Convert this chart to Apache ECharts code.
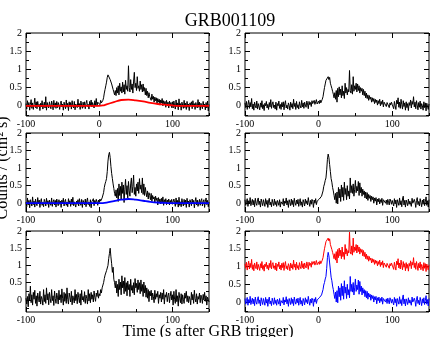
<!DOCTYPE html>
<html>
<head>
<meta charset="utf-8">
<script src="https://cdn.jsdelivr.net/npm/echarts@6/dist/echarts.min.js"></script>
<style>
  html, body { margin: 0; padding: 0; background: #fff; }
  #chart { width: 436px; height: 337px; }
</style>
</head>
<body>
<div id="chart"></div>
<script>
// 1 s time bins, -100 .. 150 s after trigger
const time = []
for (let t = -100; t <= 150; t += 1) time.push(t)

// light curves (counts / cm^2 s)
// each: 105 pre-burst bins, 96 burst bins (5..100 s), 50 tail bins
const tlCounts = [
  0.06, -0.09, 0.14, -0.02, 0.09, -0.12, 0.04, 0.17, -0.07, 0.08,
  -0.10, 0.03, 0.21, -0.05, 0.11, -0.08, 0.12, -0.02, 0.04, -0.13,
  0.07, -0.03, 0.14, -0.09, 0.01, 0.10, -0.06, 0.25, -0.12, 0.09,
  0.00, -0.06, 0.11, 0.02, -0.08, 0.13, 0.04, -0.11, 0.15, -0.04,
  0.08, -0.07, 0.12, -0.05, 0.09, 0.02, -0.10, 0.06, 0.13, -0.03,
  0.05, -0.12, 0.10, 0.01, -0.08, 0.16, -0.04, 0.07, -0.13, 0.11,
  -0.02, 0.09, -0.09, 0.14, 0.00, -0.06, 0.12, -0.11, 0.05, 0.08,
  -0.05, 0.18, -0.03, 0.06, -0.10, 0.13, 0.02, -0.07, 0.10, -0.04,
  0.11, -0.08, 0.07, 0.15, -0.02, 0.04, -0.09, 0.12, 0.01, 0.16,
  -0.03, 0.09, 0.05, -0.06, 0.14, 0.02, 0.20, -0.01, 0.10, 0.06,
  0.12, 0.03, 0.15, 0.08, 0.11,
  0.15, 0.22, 0.35, 0.45, 0.55, 0.65, 0.78, 0.85, 0.80, 0.86,
  0.72, 0.75, 0.60, 0.55, 0.45, 0.38, 0.30, 0.42, 0.28, 0.50,
  0.35, 0.55, 0.30, 0.62, 0.40, 0.52, 0.35, 0.65, 0.38, 0.58,
  0.32, 0.70, 0.45, 0.55, 0.40, 1.10, 0.50, 0.38, 0.72, 0.45,
  0.60, 0.35, 0.68, 0.92, 0.50, 0.62, 0.42, 0.80, 0.48, 0.55,
  0.40, 0.68, 0.45, 0.58, 0.38, 0.60, 0.40, 0.50, 0.30, 0.48,
  0.28, 0.40, 0.22, 0.36, 0.25, 0.30, 0.15, 0.32, 0.18, 0.26,
  0.10, 0.24, 0.14, 0.22, 0.06, 0.20, 0.10, 0.18, 0.02, 0.16,
  0.08, 0.20, 0.00, 0.14, 0.05, 0.12, -0.04, 0.15, 0.02, 0.10,
  -0.06, 0.13, 0.01, 0.09, -0.05, 0.11,
  -0.06, 0.13, 0.01, -0.09, 0.16, -0.02, 0.08, -0.11, 0.19, -0.03,
  0.06, -0.12, 0.10, 0.02, -0.07, 0.15, -0.05, 0.07, -0.10, 0.12,
  -0.04, 0.05, -0.13, 0.08, 0.02, 0.11, -0.08, 0.14, -0.02, 0.06,
  -0.10, 0.09, 0.00, -0.06, 0.17, -0.04, 0.10, -0.12, 0.07, 0.03,
  -0.08, 0.12, -0.03, 0.05, -0.11, 0.09, -0.06, 0.13, -0.14, 0.04
]
const trCounts = [
  0.08, -0.05, 0.12, -0.10, 0.04, 0.15, -0.07, 0.09, -0.03, 0.20,
  -0.08, 0.05, -0.12, 0.10, 0.01, -0.06, 0.13, -0.09, 0.06, 0.02,
  -0.11, 0.08, -0.04, 0.14, -0.08, 0.03, -0.13, 0.07, 0.00, 0.12,
  -0.06, 0.04, -0.10, 0.09, -0.03, 0.17, -0.07, 0.05, 0.11, -0.05,
  0.02, -0.09, 0.10, -0.12, 0.06, 0.00, 0.13, -0.07, 0.04, -0.10,
  0.09, -0.03, 0.11, -0.11, 0.05, 0.14, -0.06, 0.02, -0.09, 0.08,
  0.01, -0.12, 0.10, -0.04, 0.06, -0.08, 0.18, -0.02, 0.07, -0.10,
  0.12, -0.05, 0.03, -0.09, 0.11, 0.00, -0.06, 0.15, -0.03, 0.08,
  -0.07, 0.10, 0.02, -0.04, 0.13, 0.05, -0.08, 0.12, 0.03, 0.09,
  -0.02, 0.14, 0.06, 0.01, 0.15, 0.04, 0.11, 0.17, 0.05, 0.10,
  0.13, 0.06, 0.16, 0.08, 0.12,
  0.18, 0.25, 0.38, 0.50, 0.60, 0.70, 0.75, 0.68, 0.80, 0.72,
  0.78, 0.62, 0.55, 0.48, 0.40, 0.32, 0.22, 0.36, 0.18, 0.42,
  0.10, 0.48, 0.25, 0.52, 0.30, 0.46, 0.22, 0.55, 0.28, 0.40,
  0.20, 0.62, 0.35, 0.50, 0.30, 0.45, 0.38, 0.97, 0.42, 0.35,
  0.58, 0.32, 0.80, 0.40, 0.55, 0.45, 0.62, 0.38, 0.60, 0.42,
  0.55, 0.35, 0.50, 0.40, 0.48, 0.30, 0.45, 0.28, 0.40, 0.22,
  0.35, 0.20, 0.30, 0.15, 0.28, 0.18, 0.24, 0.10, 0.22, 0.12,
  0.20, 0.06, 0.18, 0.09, 0.16, 0.02, 0.14, 0.06, 0.18, 0.00,
  0.12, 0.04, 0.16, -0.03, 0.10, 0.05, 0.12, -0.02, 0.09, 0.04,
  0.11, -0.05, 0.08, 0.02, 0.10, 0.04,
  0.02, -0.08, 0.12, 0.00, -0.10, 0.15, 0.05, 0.22, -0.04, 0.10,
  -0.07, 0.18, 0.03, -0.09, 0.14, -0.02, 0.08, -0.12, 0.11, -0.05,
  0.06, -0.13, 0.09, 0.01, 0.16, -0.06, 0.12, 0.04, 0.25, -0.03,
  0.10, -0.08, 0.14, 0.02, -0.11, 0.09, -0.04, 0.13, -0.09, 0.06,
  0.00, -0.12, 0.11, -0.05, 0.08, -0.14, 0.07, 0.03, -0.10, 0.05
]
const mlCounts = [
  0.03, -0.10, 0.15, -0.05, 0.08, -0.13, 0.10, 0.02, -0.08, 0.18,
  -0.04, 0.06, -0.11, 0.12, 0.00, -0.07, 0.16, -0.02, 0.09, -0.12,
  0.05, 0.13, -0.06, 0.02, -0.10, 0.11, 0.04, -0.08, 0.14, -0.03,
  0.07, -0.12, 0.09, 0.01, -0.06, 0.15, -0.09, 0.04, 0.10, -0.05,
  0.08, -0.11, 0.12, 0.02, -0.07, 0.10, -0.03, 0.06, -0.12, 0.09,
  -0.02, 0.14, -0.08, 0.05, 0.11, -0.06, 0.03, -0.10, 0.13, 0.00,
  0.07, -0.09, 0.12, -0.04, 0.17, -0.07, 0.04, 0.09, -0.11, 0.06,
  -0.03, 0.10, -0.08, 0.13, 0.01, -0.06, 0.11, -0.12, 0.08, 0.02,
  -0.05, 0.12, -0.10, 0.06, 0.15, -0.04, 0.03, -0.09, 0.10, -0.13,
  0.05, 0.00, 0.13, -0.07, 0.08, -0.02, 0.11, 0.04, -0.06, 0.09,
  0.02, 0.12, 0.06, 0.10, 0.15,
  0.20, 0.30, 0.45, 0.55, 0.62, 0.70, 0.90, 1.20, 1.38, 1.45,
  1.30, 1.05, 0.85, 0.70, 0.55, 0.42, 0.28, 0.20, 0.38, 0.15,
  0.42, 0.05, 0.55, 0.22, 0.48, 0.10, 0.60, 0.28, 0.52, 0.02,
  0.40, 0.68, 0.25, 0.50, 0.15, 0.62, 0.35, 0.20, 0.55, 0.72,
  0.30, 0.48, 0.80, 0.25, 0.45, 0.20, 0.55, 0.35, 0.60, 0.28,
  0.70, 0.40, 0.52, 0.30, 0.72, 0.25, 0.55, 0.22, 0.45, 0.30,
  0.18, 0.35, 0.12, 0.30, 0.22, 0.10, 0.28, 0.05, 0.22, 0.12,
  0.18, 0.02, 0.20, 0.08, 0.15, -0.05, 0.16, 0.04, 0.12, -0.02,
  0.14, 0.00, 0.18, -0.06, 0.10, 0.03, 0.13, -0.04, 0.09, 0.02,
  0.12, -0.05, 0.08, 0.01, 0.11, -0.03,
  -0.05, 0.12, 0.02, -0.09, 0.15, -0.03, 0.08, -0.11, 0.17, -0.06,
  0.04, -0.10, 0.13, 0.00, -0.08, 0.11, -0.04, 0.09, -0.12, 0.14,
  -0.02, 0.06, -0.11, 0.10, 0.03, -0.07, 0.12, -0.01, 0.08, -0.13,
  0.05, 0.16, -0.05, 0.09, -0.09, 0.02, 0.11, -0.06, 0.07, 0.13,
  -0.08, 0.04, 0.10, -0.12, 0.06, 0.15, -0.04, 0.08, -0.10, 0.03
]
const mrCounts = [
  0.10, -0.06, 0.04, 0.13, -0.09, 0.07, -0.02, 0.16, -0.07, 0.03,
  0.11, -0.05, 0.08, -0.10, 0.14, 0.00, -0.06, 0.09, 0.15, -0.04,
  0.06, -0.11, 0.12, 0.02, -0.07, 0.10, 0.05, -0.09, 0.13, -0.03,
  0.08, -0.12, 0.06, 0.14, -0.05, 0.03, -0.10, 0.11, 0.01, -0.07,
  0.12, -0.04, 0.05, -0.09, 0.08, 0.02, -0.06, 0.10, -0.11, 0.04,
  0.09, -0.03, 0.13, -0.08, 0.06, 0.00, 0.15, -0.05, 0.07, -0.12,
  0.10, 0.02, -0.07, 0.12, -0.04, 0.08, -0.10, 0.14, 0.01, -0.06,
  0.09, -0.02, 0.11, -0.09, 0.05, 0.13, -0.06, 0.04, -0.11, 0.10,
  0.03, -0.08, 0.12, -0.01, 0.07, -0.05, 0.16, 0.02, -0.09, 0.08,
  -0.03, 0.11, 0.05, -0.12, 0.09, 0.00, 0.13, -0.04, 0.06, 0.10,
  0.04, 0.12, 0.08, 0.15, 0.20,
  0.25, 0.35, 0.48, 0.55, 0.65, 0.72, 0.95, 1.25, 1.40, 1.30,
  1.10, 0.90, 0.70, 0.60, 0.45, 0.35, 0.22, 0.10, 0.28, 0.00,
  0.32, -0.02, 0.45, 0.15, 0.40, 0.05, 0.52, 0.18, 0.45, 0.08,
  0.60, 0.25, 0.42, 0.10, 0.50, 0.20, 0.35, 0.12, 0.72, 0.30,
  0.50, 0.28, 0.55, 0.20, 0.40, 0.65, 0.30, 0.48, 0.35, 0.62,
  0.22, 0.58, 0.30, 0.45, 0.20, 0.40, 0.25, 0.35, 0.15, 0.32,
  0.12, 0.30, 0.08, 0.25, 0.14, 0.22, 0.05, 0.20, 0.10, 0.18,
  0.00, 0.15, 0.06, 0.16, -0.05, 0.12, 0.04, 0.14, -0.02, 0.10,
  0.02, 0.14, -0.06, 0.10, 0.05, 0.12, 0.00, 0.09, -0.04, 0.11,
  0.03, -0.05, 0.12, 0.06, -0.03, 0.08,
  0.04, -0.08, 0.13, -0.02, 0.09, -0.12, 0.10, 0.02, -0.06, 0.15,
  -0.04, 0.07, -0.10, 0.12, 0.20, -0.05, 0.08, -0.11, 0.09, 0.01,
  -0.07, 0.12, -0.03, 0.06, 0.10, -0.09, 0.14, 0.00, -0.05, 0.11,
  0.03, -0.12, 0.08, 0.16, -0.04, 0.05, -0.08, 0.13, 0.02, -0.10,
  0.09, -0.03, 0.12, -0.07, 0.04, 0.18, -0.06, 0.07, -0.11, 0.10
]
const blCounts = [
  0.05, -0.12, 0.10, -0.20, 0.18, 0.00, 0.40, -0.08, 0.15, -0.15,
  0.22, 0.02, 0.28, -0.10, 0.12, -0.18, 0.20, 0.05, -0.06, 0.25,
  -0.12, 0.10, 0.02, -0.15, 0.30, -0.05, 0.15, -0.10, 0.35, 0.00,
  0.18, -0.14, 0.22, 0.05, -0.08, 0.30, -0.02, 0.12, -0.16, 0.26,
  0.04, -0.10, 0.20, 0.08, -0.12, 0.28, 0.00, 0.15, -0.08, 0.32,
  0.05, -0.15, 0.22, -0.04, 0.18, -0.10, 0.35, 0.02, -0.12, 0.20,
  0.08, -0.06, 0.25, -0.14, 0.12, 0.03, -0.09, 0.30, -0.02, 0.16,
  -0.11, 0.22, 0.06, -0.08, 0.18, -0.15, 0.28, 0.00, 0.10, -0.05,
  0.24, -0.10, 0.14, 0.04, -0.12, 0.30, -0.03, 0.18, -0.08, 0.22,
  0.02, 0.15, -0.06, 0.26, 0.08, -0.04, 0.20, 0.10, 0.28, 0.05,
  0.18, 0.12, 0.30, 0.20, 0.35,
  0.40, 0.50, 0.62, 0.72, 0.68, 0.85, 0.80, 1.00, 1.20, 1.35,
  1.50, 1.25, 1.05, 0.80, 0.95, 0.60, 0.50, 0.35, 0.55, 0.20,
  0.45, 0.10, 0.60, 0.30, 0.52, 0.15, 0.70, 0.35, 0.55, 0.18,
  0.65, 0.25, 0.50, 0.12, 0.55, 0.30, 0.45, 0.10, 0.60, 0.28,
  0.42, 0.20, 0.50, 0.15, 0.62, 0.35, 0.48, 0.22, 0.58, 0.30,
  0.50, 0.18, 0.58, 0.25, 0.45, 0.10, 0.52, 0.20, 0.42, 0.08,
  0.35, 0.05, 0.30, -0.05, 0.25, 0.12, 0.28, 0.00, 0.20, 0.10,
  -0.08, 0.28, 0.02, 0.18, 0.08, 0.25, -0.10, 0.15, 0.05, 0.22,
  -0.06, 0.20, 0.02, 0.30, -0.12, 0.15, 0.08, 0.22, -0.05, 0.12,
  0.20, -0.08, 0.10, 0.25, 0.00, 0.15,
  -0.15, 0.25, 0.02, -0.10, 0.30, -0.05, 0.12, -0.18, 0.22, 0.05,
  -0.08, 0.18, -0.12, 0.15, 0.02, -0.10, 0.20, 0.05, 0.25, -0.05,
  0.12, -0.08, 0.10, 0.02, -0.14, 0.22, 0.00, 0.16, -0.10, 0.28,
  0.04, -0.06, 0.18, -0.12, 0.10, 0.02, 0.20, -0.08, 0.14, 0.06,
  -0.10, 0.16, 0.00, 0.22, -0.04, 0.12, -0.15, 0.08, 0.02, -0.06
]

// smooth model curves (top-left red, middle-left blue)
const modelTime = [-100, -50, 0, 5, 10, 20, 30, 40, 50, 60, 70, 80, 90, 100, 110, 150]
const redModel = [0, 0, 0, 0.01, 0.04, 0.10, 0.16, 0.17, 0.15, 0.12, 0.08, 0.05, 0.03, 0.01, 0, 0]
const blueModel = [0, 0, 0, 0.005, 0.02, 0.06, 0.10, 0.12, 0.10, 0.07, 0.04, 0.02, 0.01, 0, 0, 0]

const redOffset = 1 // bottom-right: red curve shifted up by 1

// tick marks
const xMajor = [-100, 0, 100]
const xMinor = [-50, 50, 150]
const yMajor = [0, 0.5, 1, 1.5, 2]
const yMinor = [-0.25, 0.25, 0.75, 1.25, 1.75]

const panels = [
  { left: 26, top: 33, width: 183, height: 83, yMin: -0.28 },
  { left: 245, top: 33, width: 184, height: 83, yMin: -0.28 },
  { left: 26, top: 133, width: 183, height: 79, yMin: -0.25 },
  { left: 245, top: 133, width: 184, height: 79, yMin: -0.25 },
  { left: 26, top: 231, width: 183, height: 81, yMin: -0.35 },
  { left: 245, top: 231, width: 184, height: 81, yMin: -0.28 }
]

const labelFont = { fontFamily: 'Liberation Serif', fontSize: 10, color: '#000' }

const grid = []
const xAxis = []
const yAxis = []

panels.forEach((p, g) => {
  grid.push({
    left: p.left, top: p.top, width: p.width, height: p.height,
    show: true, borderColor: '#000', borderWidth: 1
  })
  // major bottom (labels), major top, then two identical minor axes
  const xDefs = [['bottom', xMajor, 5, true], ['top', xMajor, 5, false], ['bottom', xMinor, 3, false], ['top', xMinor, 3, false]]
  xDefs.forEach(([pos, vals, len, lab]) => {
    xAxis.push({
      type: 'value', gridIndex: g, position: pos, min: -100, max: 150,
      axisLine: { show: false, onZero: false },
      splitLine: { show: false },
      axisTick: { show: true, inside: true, length: len, customValues: vals, lineStyle: { color: '#000' } },
      axisLabel: Object.assign({ show: lab, customValues: vals, margin: 3 }, labelFont)
    })
  })
  const minor = yMinor.filter(v => v > p.yMin)
  const yDefs = [['left', yMajor, 5, true], ['right', yMajor, 5, false], ['left', minor, 3, false], ['right', minor, 3, false]]
  yDefs.forEach(([pos, vals, len, lab]) => {
    yAxis.push({
      type: 'value', gridIndex: g, position: pos, min: p.yMin, max: 2,
      axisLine: { show: false, onZero: false },
      splitLine: { show: false },
      axisTick: { show: true, inside: true, length: len, customValues: vals, lineStyle: { color: '#000' } },
      axisLabel: Object.assign({ show: lab, customValues: vals, margin: 4 }, labelFont)
    })
  })
})

function line(g, xs, ys, color, width, smooth, shift) {
  return {
    type: 'line',
    xAxisIndex: g * 4,
    yAxisIndex: g * 4,
    data: xs.map((t, i) => [t, ys[i] + (shift || 0)]),
    showSymbol: false,
    symbol: 'none',
    smooth: smooth || false,
    lineStyle: { color: color, width: width },
    silent: true
  }
}

const series = [
  line(0, time, tlCounts, '#000', 1),
  line(0, modelTime, redModel, '#ff0000', 1.8, 0.4),
  line(1, time, trCounts, '#000', 1),
  line(2, time, mlCounts, '#000', 1),
  line(2, modelTime, blueModel, '#0000ff', 1.8, 0.4),
  line(3, time, mrCounts, '#000', 1),
  line(4, time, blCounts, '#000', 1),
  line(5, time, trCounts, '#ff0000', 1, false, redOffset),
  line(5, time, mrCounts, '#0000ff', 1)
]

const chart = echarts.init(document.getElementById('chart'))
chart.setOption({
  animation: false,
  backgroundColor: '#fff',
  grid: grid,
  xAxis: xAxis,
  yAxis: yAxis,
  series: series,
  graphic: [
    {
      type: 'text', x: 230, y: 12,
      style: { text: 'GRB001109', font: '18px "Liberation Serif"', fill: '#000', align: 'center', textAlign: 'center', verticalAlign: 'top', textVerticalAlign: 'top' }
    },
    {
      type: 'text', x: 208, y: 324,
      style: { text: 'Time (s after GRB trigger)', font: '16px "Liberation Serif"', fill: '#000', align: 'center', textAlign: 'center', verticalAlign: 'top', textVerticalAlign: 'top' }
    },
    {
      type: 'text', x: 3, y: 168, rotation: Math.PI / 2,
      style: { text: 'Counts / (cm² s)', font: '16px "Liberation Serif"', fill: '#000', align: 'center', textAlign: 'center', verticalAlign: 'middle', textVerticalAlign: 'middle' }
    }
  ]
})
</script>
</body>
</html>
